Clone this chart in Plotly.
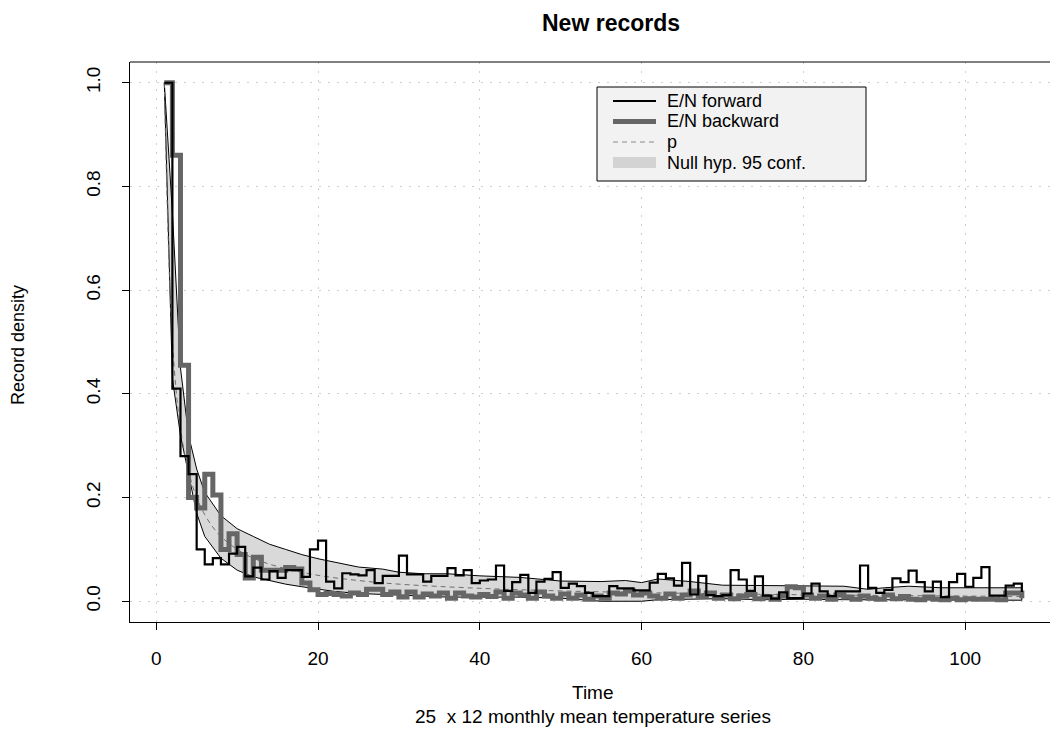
import plotly.graph_objects as go

# ---- data -------------------------------------------------------------
time = list(range(1, 108))

# E/N forward (proportion of series setting a new record at each time)
forward = [
    1.0, 0.41, 0.28, 0.245, 0.10, 0.071, 0.083, 0.071, 0.092, 0.105,
    0.048, 0.065, 0.042, 0.058, 0.045, 0.060, 0.060, 0.047, 0.10, 0.117,
    0.038, 0.025, 0.054, 0.052, 0.050, 0.060, 0.035, 0.049, 0.049, 0.088,
    0.052, 0.052, 0.038, 0.049, 0.049, 0.064, 0.050, 0.060, 0.035, 0.040,
    0.042, 0.069, 0.020, 0.037, 0.051, 0.016, 0.038, 0.043, 0.056, 0.026,
    0.034, 0.029, 0.016, 0.010, 0.010, 0.029, 0.025, 0.025, 0.021, 0.021,
    0.036, 0.053, 0.044, 0.030, 0.074, 0.013, 0.049, 0.012, 0.010, 0.012,
    0.060, 0.042, 0.020, 0.048, 0.011, 0.005, 0.017, 0.006, 0.006, 0.015,
    0.034, 0.019, 0.010, 0.019, 0.019, 0.019, 0.069, 0.026, 0.016, 0.022,
    0.044, 0.037, 0.059, 0.037, 0.019, 0.038, 0.008, 0.037, 0.053, 0.028,
    0.045, 0.066, 0.011, 0.011, 0.030, 0.034, 0.018,
]

# E/N backward
backward = [
    1.0, 0.86, 0.455, 0.20, 0.18, 0.245, 0.205, 0.10, 0.13, 0.09,
    0.045, 0.085, 0.060, 0.060, 0.060, 0.065, 0.062, 0.035, 0.022, 0.013,
    0.015, 0.013, 0.010, 0.016, 0.013, 0.023, 0.023, 0.013, 0.018, 0.008,
    0.018, 0.008, 0.014, 0.010, 0.016, 0.006, 0.016, 0.010, 0.008, 0.013,
    0.009, 0.018, 0.006, 0.016, 0.012, 0.006, 0.018, 0.010, 0.006, 0.014,
    0.006, 0.012, 0.004, 0.010, 0.006, 0.016, 0.014, 0.020, 0.012, 0.016,
    0.010, 0.006, 0.014, 0.006, 0.012, 0.020, 0.010, 0.016, 0.006, 0.012,
    0.005, 0.010, 0.013, 0.005, 0.008, 0.004, 0.010, 0.028, 0.026, 0.012,
    0.006, 0.010, 0.004, 0.012, 0.008, 0.004, 0.010, 0.006, 0.004, 0.012,
    0.005, 0.009, 0.004, 0.003, 0.008, 0.004, 0.003, 0.006, 0.003, 0.005,
    0.004, 0.004, 0.004, 0.003, 0.016, 0.016, 0.006,
]

# Expected record probability p under the null hypothesis
p_time = [1, 2, 3, 4, 5, 6, 7, 8, 10, 12, 15, 20, 25, 30, 40, 50, 60, 70, 80, 90, 100, 107]
p_val = [1.0, 0.5, 0.333, 0.25, 0.2, 0.167, 0.143, 0.125, 0.1, 0.083, 0.067, 0.05,
         0.04, 0.033, 0.025, 0.02, 0.0167, 0.0143, 0.0125, 0.0111, 0.01, 0.0093]

# 95% confidence band of the null hypothesis
band_time = [1, 2, 3, 4, 5, 6, 8, 10, 12, 14, 16, 18, 20, 22, 25, 28, 30, 33, 36,
             40, 45, 50, 55, 58, 60, 62, 66, 70, 75, 80, 85, 88, 90, 93, 97, 100, 107]
band_hi = [1.0, 0.75, 0.45, 0.32, 0.255, 0.21, 0.165, 0.14, 0.125, 0.11, 0.10, 0.09,
           0.082, 0.076, 0.066, 0.062, 0.056, 0.053, 0.053, 0.049, 0.046, 0.039, 0.038,
           0.040, 0.036, 0.043, 0.038, 0.031, 0.030, 0.030, 0.029, 0.023, 0.026, 0.029,
           0.026, 0.026, 0.026]
band_lo = [1.0, 0.43, 0.32, 0.245, 0.17, 0.125, 0.083, 0.06, 0.047, 0.040, 0.033, 0.028,
           0.023, 0.019, 0.015, 0.013, 0.012, 0.010, 0.008, 0.008, 0.008, 0.006, 0.0,
           0.0, 0.0, 0.003, 0.004, 0.005, 0.003, 0.004, 0.003, 0.003, 0.003, 0.002,
           0.002, 0.002, 0.002]

x_ticks = [0, 20, 40, 60, 80, 100]
y_ticks = [0.0, 0.2, 0.4, 0.6, 0.8, 1.0]
y_tick_text = ["0.0", "0.2", "0.4", "0.6", "0.8", "1.0"]

legend_labels = ["E/N forward", "E/N backward", "p", "Null hyp. 95 conf."]

# ---- layout geometry (pixels) -----------------------------------------
W, H = 1050, 731
L, R, T, B = 130, 1050, 62, 622
FONT = "Liberation Sans, Arial, Helvetica, sans-serif"
BLACK = "#000000"
DARK = "#666666"
LIGHT = "#d3d3d3"
GRID = "#cfcfcf"


def px(x):
    return (x - L) / (R - L)


def py(y):
    return (B - y) / (B - T)


fig = go.Figure()

# confidence band polygon
fig.add_trace(go.Scatter(
    x=band_time + band_time[::-1],
    y=band_hi + band_lo[::-1],
    fill="toself", fillcolor="#d9d9d9",
    line=dict(color=BLACK, width=1),
    mode="lines", hoverinfo="skip", showlegend=False,
))

# expected probability
fig.add_trace(go.Scatter(
    x=p_time, y=p_val, mode="lines", line_shape="spline",
    line=dict(color="#6e6e6e", width=1, dash="5px,4px"),
    showlegend=False,
))

# backward and forward record rates as step lines
fig.add_trace(go.Scatter(
    x=time, y=backward, mode="lines", line_shape="hv",
    line=dict(color=DARK, width=5), showlegend=False,
))
fig.add_trace(go.Scatter(
    x=time, y=forward, mode="lines", line_shape="hv",
    line=dict(color=BLACK, width=2.2), showlegend=False,
))

shapes = []
# top border of the plotting region
shapes.append(dict(type="line", xref="paper", yref="paper", x0=0, x1=1, y0=1, y1=1,
                   line=dict(color=BLACK, width=1)))

# legend box
shapes.append(dict(type="rect", xref="paper", yref="paper",
                   x0=px(597), x1=px(866), y0=py(181), y1=py(87),
                   fillcolor="#f2f2f2", line=dict(color=BLACK, width=1), layer="above"))
legend_y = [101, 121.5, 142, 162.5]
legend_styles = [
    dict(color=BLACK, width=2.2),
    dict(color=DARK, width=5),
    dict(color="#8a8a8a", width=1, dash="5px,4px"),
    dict(color=LIGHT, width=11),
]
for yy, st in zip(legend_y, legend_styles):
    shapes.append(dict(type="line", xref="paper", yref="paper",
                       x0=px(613), x1=px(656), y0=py(yy), y1=py(yy),
                       line=st, layer="above"))

annotations = []
for yy, lab in zip(legend_y, legend_labels):
    annotations.append(dict(text=lab, xref="paper", yref="paper", x=px(665), y=py(yy),
                            xanchor="left", yanchor="middle", showarrow=False,
                            font=dict(family=FONT, size=18, color=BLACK)))

annotations += [
    dict(text="<b>New records</b>", xref="paper", yref="paper", x=px(611), y=py(23),
         xanchor="center", yanchor="middle", showarrow=False,
         font=dict(family=FONT, size=23, color=BLACK)),
    dict(text="Time", xref="paper", yref="paper", x=px(593), y=py(692),
         xanchor="center", yanchor="middle", showarrow=False,
         font=dict(family=FONT, size=19, color=BLACK)),
    dict(text="25  x 12 monthly mean temperature series", xref="paper", yref="paper",
         x=px(593), y=py(716), xanchor="center", yanchor="middle", showarrow=False,
         font=dict(family=FONT, size=19, color=BLACK)),
    dict(text="Record density", xref="paper", yref="paper", x=px(18), y=py(345),
         xanchor="center", yanchor="middle", textangle=-90, showarrow=False,
         font=dict(family=FONT, size=18, color=BLACK)),
]

x_per_px = 8.09
fig.update_layout(
    width=W, height=H,
    margin=dict(l=L, r=W - R, t=T, b=H - B),
    paper_bgcolor="white", plot_bgcolor="white",
    font=dict(family=FONT, size=19, color=BLACK),
    shapes=shapes, annotations=annotations,
    showlegend=False,
    xaxis=dict(
        range=[-3.24, -3.24 + (R - L) / x_per_px],
        tickmode="array", tickvals=x_ticks,
        ticks="outside", ticklen=7, tickwidth=1, tickcolor=BLACK,
        showline=True, linecolor=BLACK, linewidth=1, mirror=False,
        showgrid=True, gridcolor=GRID, griddash="2px,7px", gridwidth=1,
        zeroline=False, ticklabelstandoff=12,
        tickfont=dict(family=FONT, size=19, color=BLACK),
    ),
    yaxis=dict(
        range=[-0.04, 1.04],
        tickmode="array", tickvals=y_ticks, ticktext=y_tick_text,
        ticks="outside", ticklen=7, tickwidth=1, tickcolor=BLACK,
        showline=True, linecolor=BLACK, linewidth=1, mirror=False,
        showgrid=True, gridcolor=GRID, griddash="2px,7px", gridwidth=1,
        zeroline=False, tickangle=-90, ticklabelstandoff=14,
        tickfont=dict(family=FONT, size=19, color=BLACK),
    ),
)

fig.write_html("out.html")
